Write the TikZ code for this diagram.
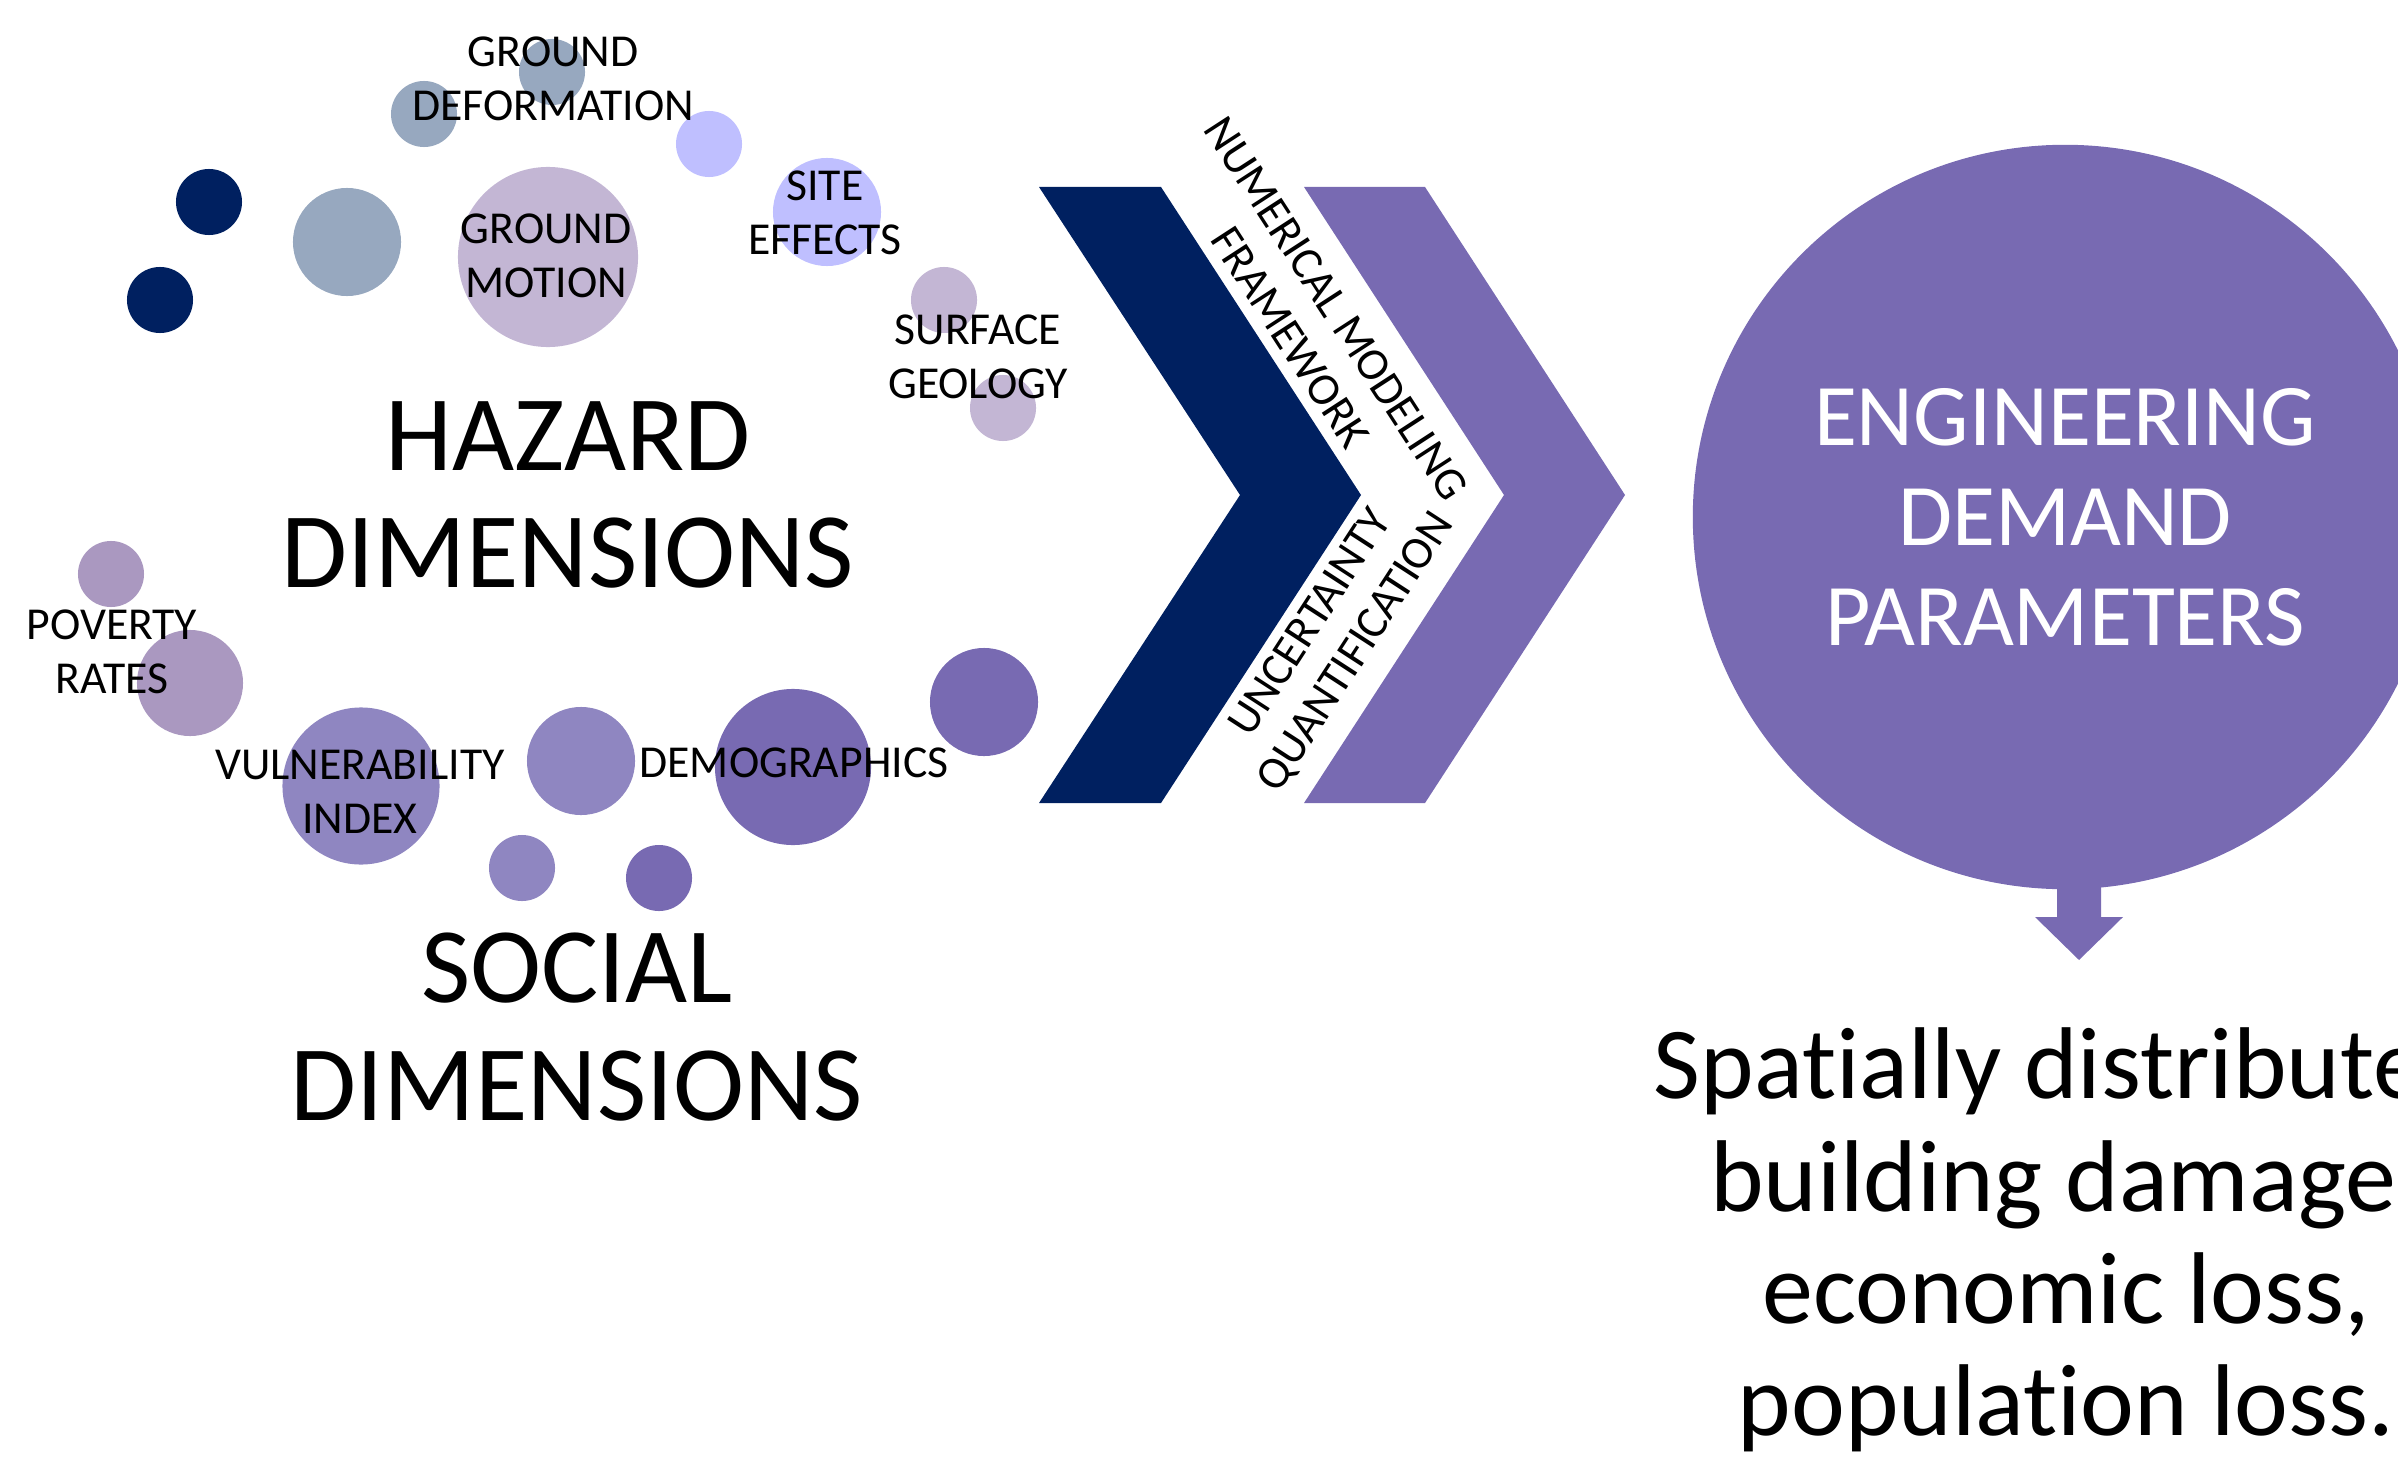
\documentclass[tikz,border=0pt]{standalone}
\usepackage{fontspec}
\setmainfont{Carlito}[Ligatures={NoCommon,NoContextual,NoRequired}, RawFeature=-calt]

\definecolor{navy}{HTML}{002060}
\definecolor{slate}{HTML}{97A8BF}
\definecolor{lilac}{HTML}{C3B6D4}
\definecolor{lavender}{HTML}{BFBFFF}
\definecolor{mauve}{HTML}{AA98C0}
\definecolor{iris}{HTML}{8F86C1}
\definecolor{violet}{HTML}{786AB2}

\tikzset{
  bubble/.style={circle, inner sep=0pt, minimum size=#1},
  tag/.style={font=\fontsize{13}{15.4}\selectfont, align=center, inner sep=0pt},
  dimtext/.style={font=\fontsize{30.5}{33.3}\selectfont, align=center, inner sep=0pt},
  edptext/.style={font=\fontsize{25}{28.5}\selectfont, align=center, text=white}
}

\begin{document}
\begin{tikzpicture}[x=0.01cm, y=-0.01cm]
\useasboundingbox (0,0) rectangle (2398,1464);
\clip (0,0) rectangle (2398,1464);

% hazard bubbles
\node[bubble=0.66cm, fill=navy] (h1) at (209,202) {};
\node[bubble=0.66cm, fill=navy] (h2) at (160,300) {};
\node[bubble=1.08cm, fill=slate] (h3) at (347,242) {};
\node[bubble=0.66cm, fill=slate] (h4) at (424,114) {};
\node[bubble=0.66cm, fill=slate] (h5) at (552,72) {};
\node[bubble=1.80cm, fill=lilac] (h6) at (548,257) {};
\node[bubble=0.66cm, fill=lavender] (h7) at (709,144) {};
\node[bubble=1.08cm, fill=lavender] (h8) at (827,212) {};
\node[bubble=0.66cm, fill=lilac] (h9) at (944,300) {};
\node[bubble=0.66cm, fill=lilac] (h10) at (1003,408) {};

% social bubbles
\node[bubble=0.66cm, fill=mauve] (s1) at (111,574) {};
\node[bubble=1.06cm, fill=mauve] (s2) at (190,683) {};
\node[bubble=1.57cm, fill=iris] (s3) at (361,786) {};
\node[bubble=1.08cm, fill=iris] (s4) at (581,761) {};
\node[bubble=0.66cm, fill=iris] (s5) at (522,868) {};
\node[bubble=0.66cm, fill=violet] (s6) at (659,878) {};
\node[bubble=1.56cm, fill=violet] (s7) at (793,767) {};
\node[bubble=1.08cm, fill=violet] (s8) at (984,702) {};

% labels
\node[tag] (gdef) at (553,79) {GROUND\\DEFORMATION};
\node[tag] (gmot) at (546,256) {GROUND\\MOTION};
\node[tag] (site) at (825,213) {SITE\\EFFECTS};
\node[tag] (geol) at (978,357) {SURFACE\\GEOLOGY};
\node[tag] (pov) at (112,652) {POVERTY\\RATES};
\node[tag] (vul) at (360,792) {VULNERABILITY\\INDEX};
\node[tag] (demo) at (794,763) {DEMOGRAPHICS};

\node[dimtext] (hazard) at (568,495) {HAZARD\\DIMENSIONS};
\node[dimtext] (social) at (577,1027) {SOCIAL\\DIMENSIONS};

% chevrons
\fill[navy] (1039,187) -- (1161,187) -- (1361,495) -- (1161,803) -- (1039,803) -- (1240,495) -- cycle;
\fill[violet] (1304,187) -- (1425,187) -- (1625,495) -- (1425,803) -- (1304,803) -- (1504,495) -- cycle;

\node[tag, rotate=-57] (nmf) at (1313,323) {NUMERICAL MODELING\\FRAMEWORK};
\node[tag, rotate=57] (uq) at (1334,638) {UNCERTAINTY\\QUANTIFICATION};

% result
\node[bubble=7.44cm, fill=violet, edptext] (edp) at (2065,517) {ENGINEERING\\DEMAND\\PARAMETERS};
\coordinate (tip) at (2079,960);
\fill[violet] (tip) -- ++(-44,-43) -- ++(22,0) -- ++(0,-47) -- ++(44,0) -- ++(0,47) -- ++(22,0) -- cycle;

% kerns keep t and i apart
\node[font=\fontsize{29}{31.9}\selectfont, align=center] (loss) at (2066,1240)
  {Spat\kern0pt ially distributed\\building damage,\\economic loss,\\populat\kern0pt ion loss.};
\end{tikzpicture}
\end{document}
